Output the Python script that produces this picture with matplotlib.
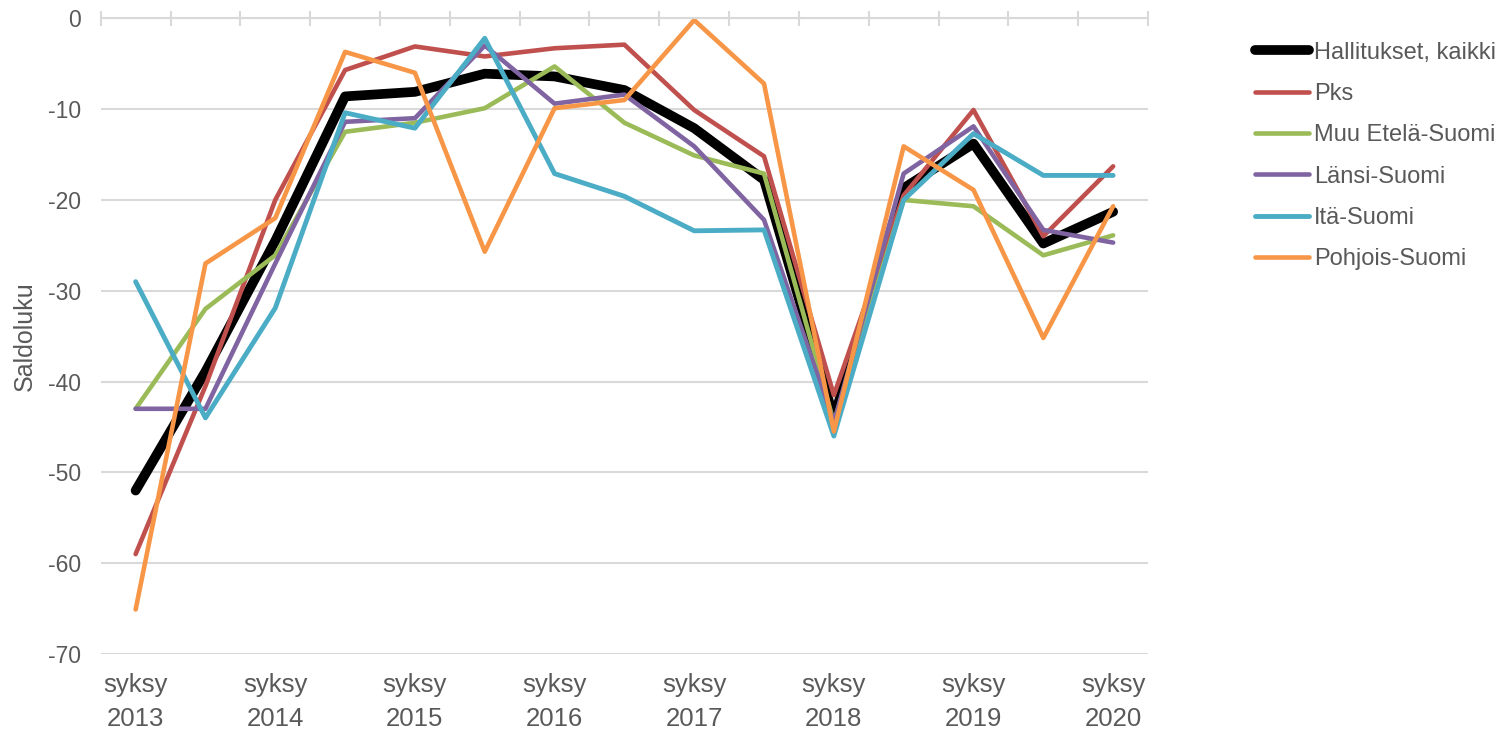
import matplotlib
matplotlib.use('Agg')
import matplotlib.pyplot as plt

# saldoluvut puolivuosittain, syksy 2013 - syksy 2020
periods = ['syksy\n2013', '', 'syksy\n2014', '', 'syksy\n2015', '', 'syksy\n2016', '',
           'syksy\n2017', '', 'syksy\n2018', '', 'syksy\n2019', '', 'syksy\n2020']

hallitukset = [-52, -38.9, -24.5, -8.6, -8.1, -6.1, -6.4, -7.9, -12.1, -17.8, -44, -18.7, -13.8, -24.8, -21.3]
pks = [-59, -40.5, -20, -5.7, -3.1, -4.2, -3.3, -2.9, -10.1, -15.2, -41.5, -19.5, -10.1, -24, -16.3]
muu_etela = [-43, -32, -26.1, -12.5, -11.5, -9.9, -5.3, -11.5, -15.1, -17.1, -44.5, -20, -20.7, -26.1, -23.9]
lansi = [-43, -43, -27, -11.4, -11, -3, -9.4, -8.4, -14.1, -22.2, -44.5, -17.1, -11.9, -23.3, -24.7]
ita = [-29, -44, -31.9, -10.4, -12.1, -2.2, -17.1, -19.6, -23.4, -23.3, -46, -20, -12.7, -17.3, -17.3]
pohjois = [-65.1, -27, -22, -3.7, -6, -25.7, -9.9, -9, -0.2, -7.2, -45.5, -14.1, -18.9, -35.2, -20.7]

series = [
    ('Hallitukset, kaikki', hallitukset, '#000000', 7.0),
    ('Pks', pks, '#C0504D', 3.3),
    ('Muu Etelä-Suomi', muu_etela, '#9BBB59', 3.3),
    ('Länsi-Suomi', lansi, '#8064A2', 3.3),
    ('Itä-Suomi', ita, '#4BACC6', 3.5),
    ('Pohjois-Suomi', pohjois, '#F79646', 3.3),
]

text_color = '#595959'
grid_color = '#D9D9D9'
plt.rcParams['font.family'] = ['Liberation Sans', 'DejaVu Sans']
plt.rcParams['axes.unicode_minus'] = False

fig = plt.figure(figsize=(15.1, 7.29), dpi=100)
ax = fig.add_axes([0.0667, 0.1029, 0.6936, 0.872])

x = list(range(len(periods)))
for name, values, color, lw in series:
    ax.plot(x, values, color=color, lw=lw, label=name,
            solid_joinstyle='round', solid_capstyle='round')

ax.set_xlim(-0.5, len(periods) - 0.5)
ax.set_ylim(-70, 0)
ax.set_yticks(range(-70, 1, 10))
ax.yaxis.grid(True, color=grid_color, lw=1.5)
ax.set_axisbelow(True)

for side in ['left', 'right', 'bottom']:
    ax.spines[side].set_visible(False)
ax.spines['top'].set_color(grid_color)
ax.spines['top'].set_linewidth(1.5)

# category boundaries as ticks on the zero line, labels below the plot
ax.set_xticks([i - 0.5 for i in range(len(periods) + 1)])
ax.set_xticks(x, minor=True)
ax.set_xticklabels(periods, minor=True)
ax.tick_params(axis='x', which='major', top=True, bottom=False, labelbottom=False,
               direction='inout', length=10.8, width=1.5, color=grid_color)
ax.tick_params(axis='x', which='minor', top=False, bottom=False, length=0,
               labelbottom=True, labelsize=18.5, labelcolor=text_color, pad=14)
for lab in ax.get_xticklabels(minor=True):
    lab.set_linespacing(1.5)
ax.tick_params(axis='y', length=0, labelsize=16.5, labelcolor=text_color, pad=14)

ax.set_ylabel('Saldoluku', fontsize=18, color=text_color, labelpad=8)

fig.legend(loc='upper left', bbox_to_anchor=(0.817, 0.972), frameon=False,
           fontsize=17, labelcolor=text_color, handlelength=2.3,
           handletextpad=0.2, labelspacing=0.82)

fig.savefig('out.png', dpi=100)
